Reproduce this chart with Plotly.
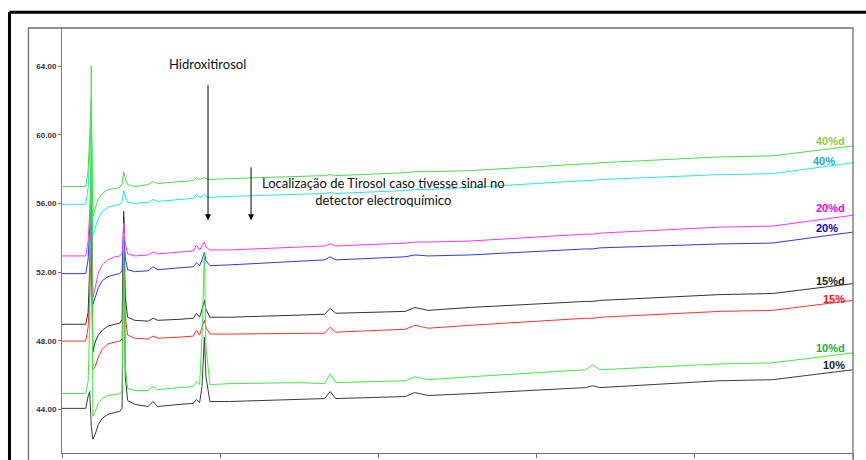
import plotly.graph_objects as go

# Retention time grid (min)
time_min = [0, 1.5, 1.65, 1.75, 1.85, 1.95, 2.1, 2.3, 2.55, 2.9, 3.35, 3.65, 3.8, 3.9, 4.0,
            4.15, 4.6, 5.45, 5.75, 6.05, 7.45, 8.3, 8.5, 8.7, 8.85, 9.0, 9.1, 9.35, 10.6,
            15.0, 16.6, 16.95, 17.3, 21.7, 22.3, 23.15, 25.8, 33.1, 33.55, 34.0, 41.6, 44.9, 50]

# Detector signal for each sample
s10 = [44.06, 44.06, 44.75, 45.04, 43.02, 42.27, 42.56, 43.13, 43.48, 43.71, 43.83, 43.88, 44.06, 55.54, 45.9,
       44.52, 44.29, 44.17, 44.46, 44.17, 44.29, 44.35, 44.58, 44.4, 45.33, 48.21, 45.9, 44.46, 44.46,
       44.58, 44.63, 45.04, 44.63, 44.75, 44.98, 44.81, 44.92, 45.27, 45.38, 45.27, 45.67, 45.73, 46.31]
s10d = [44.92, 44.92, 45.62, 48.79, 64.02, 43.6, 43.88, 44.35, 44.63, 44.81, 44.87, 44.92, 45.04, 54.27, 46.48,
        45.21, 45.1, 45.1, 45.33, 45.15, 45.27, 45.33, 45.62, 45.44, 48.21, 53.12, 47.64, 45.44, 45.5,
        45.56, 45.5, 46.08, 45.56, 45.67, 45.9, 45.73, 45.9, 46.31, 46.6, 46.31, 46.65, 46.71, 47.29]
s15 = [47.98, 47.98, 48.79, 50.52, 53.4, 46.31, 46.48, 47.06, 47.52, 47.81, 47.92, 47.98, 48.1, 53.4, 49.37,
       48.33, 48.15, 48.1, 48.27, 48.15, 48.21, 48.27, 48.62, 48.33, 48.79, 49.19, 48.79, 48.39, 48.39,
       48.44, 48.44, 48.79, 48.5, 48.67, 48.9, 48.73, 48.9, 49.31, 49.31, 49.37, 49.71, 49.77, 50.35]
s15d = [48.96, 48.96, 49.65, 52.25, 56.29, 47.35, 47.92, 48.33, 48.62, 48.85, 48.96, 49.02, 49.25, 55.25, 50.52,
        49.37, 49.19, 49.14, 49.31, 49.19, 49.25, 49.31, 49.6, 49.37, 49.83, 50.35, 49.83, 49.37, 49.37,
        49.48, 49.54, 49.89, 49.6, 49.71, 49.94, 49.77, 49.94, 50.29, 50.29, 50.35, 50.69, 50.75, 51.33]
s20 = [51.91, 51.91, 52.71, 54.56, 57.45, 50.12, 50.52, 51.1, 51.5, 51.73, 51.85, 51.91, 52.08, 54.56, 52.83,
       52.14, 52.02, 52.08, 52.31, 52.14, 52.25, 52.31, 52.54, 52.37, 52.71, 53.17, 52.66, 52.37, 52.42,
       52.66, 52.71, 52.89, 52.71, 52.89, 53.0, 52.94, 53.0, 53.35, 53.35, 53.41, 53.64, 53.69, 54.33]
s20d = [52.94, 52.94, 53.81, 55.43, 58.31, 50.52, 51.1, 51.96, 52.42, 52.71, 52.89, 52.94, 53.12, 54.85, 53.69,
        53.06, 52.94, 53.0, 53.17, 53.06, 53.17, 53.23, 53.58, 53.29, 53.52, 53.75, 53.46, 53.29, 53.29,
        53.46, 53.52, 53.64, 53.52, 53.69, 53.75, 53.75, 53.81, 54.21, 54.21, 54.27, 54.62, 54.68, 55.31]
s40 = [55.95, 55.95, 56.87, 58.6, 60.91, 54.16, 54.56, 55.14, 55.54, 55.77, 55.89, 55.95, 56.12, 56.75, 56.41,
       56.06, 56.0, 56.06, 56.23, 56.12, 56.23, 56.29, 56.52, 56.35, 56.41, 56.52, 56.41, 56.35, 56.41,
       56.52, 56.58, 56.64, 56.58, 56.75, 56.81, 56.81, 56.93, 57.33, 57.33, 57.39, 57.68, 57.73, 58.37]
s40d = [56.98, 56.98, 57.91, 59.75, 62.06, 55.25, 55.71, 56.29, 56.58, 56.81, 56.87, 56.93, 57.16, 57.85, 57.45,
        57.1, 56.98, 57.1, 57.27, 57.16, 57.27, 57.33, 57.5, 57.39, 57.45, 57.5, 57.45, 57.39, 57.45,
        57.56, 57.62, 57.68, 57.62, 57.79, 57.85, 57.85, 57.91, 58.31, 58.31, 58.37, 58.71, 58.77, 59.35]

series_names = ["10%", "15%", "15%d", "20%", "20%d", "40%", "40%d", "10%d"]
series_values = [s10, s15, s15d, s20, s20d, s40, s40d, s10d]
line_colors = ["#3a3a3a", "#ff3030", "#333333", "#3333ff", "#ff33ff", "#22e6e6", "#44e044", "#44e844"]

# End labels
label_text = ["40%d", "40%", "20%d", "20%", "15%d", "15%", "10%d", "10%"]
label_x = [48.55, 48.17, 48.55, 48.36, 48.55, 48.8, 48.55, 48.8]
label_y = [59.64, 58.48, 55.71, 54.56, 51.50, 50.41, 47.58, 46.60]
label_colors = ["#8cc850", "#1ea5e6", "#ff00ee", "#0000cc", "#1a1a1a", "#ff1010", "#10b050", "#1a1a1a"]

y_ticks = [44, 48, 52, 56, 60, 64]
y_ticktext = ["44.00", "48.00", "52.00", "56.00", "60.00", "64.00"]
x_ticks = [0, 10, 20, 30, 40, 50]

fig = go.Figure()
for name, vals, col in zip(series_names, series_values, line_colors):
    fig.add_trace(go.Scatter(x=time_min, y=vals, mode="lines", name=name,
                             line=dict(color=col, width=1)))

for t, x, y, c in zip(label_text, label_x, label_y, label_colors):
    fig.add_annotation(x=x, y=y, text=t, showarrow=False, xanchor="center", yanchor="middle",
                       font=dict(family="Liberation Sans, Arial", size=11, color=c, weight="bold"))

txt_font = dict(family="Lato, Carlito, sans-serif", size=13, color="#111111")
fig.add_annotation(x=9.17, y=64.14, text="Hidroxitirosol", showarrow=False, font=txt_font,
                   xanchor="center", yanchor="middle")
fig.add_annotation(x=20.35, y=56.69,
                   text="Localização de Tirosol caso tivesse sinal no<br>detector electroquímico",
                   showarrow=False, font=txt_font, xanchor="center", yanchor="middle", align="center")
# arrows
fig.add_annotation(x=9.23, y=55.02, ax=9.23, ay=62.98, axref="x", ayref="y", text="",
                   showarrow=True, arrowhead=2, arrowsize=1.2, arrowwidth=1, arrowcolor="#000000")
fig.add_annotation(x=11.95, y=55.02, ax=11.95, ay=58.19, axref="x", ayref="y", text="",
                   showarrow=True, arrowhead=2, arrowsize=1.2, arrowwidth=1, arrowcolor="#000000")

# frames
fig.add_shape(type="line", xref="paper", yref="paper", x0=-0.0664, x1=1.03, y0=1.0373, y1=1.0373,
              line=dict(color="#000000", width=3))
fig.add_shape(type="line", xref="paper", yref="paper", x0=-0.0664, x1=-0.0664, y0=1.0373, y1=-0.05,
              line=dict(color="#000000", width=3))
fig.add_shape(type="rect", xref="paper", yref="paper", x0=-0.0424, x1=1.0, y0=-0.1, y1=1.0,
              line=dict(color="#707070", width=1.3), fillcolor="rgba(0,0,0,0)")

fig.update_layout(
    width=866, height=460,
    margin=dict(l=62, r=13, t=28, b=3),
    paper_bgcolor="white", plot_bgcolor="white",
    showlegend=False,
    xaxis=dict(range=[0, 50], tickvals=x_ticks, showticklabels=False, ticks="outside", ticklen=4,
               tickcolor="#707070", showgrid=False, zeroline=False, showline=True,
               linecolor="#707070", linewidth=1),
    yaxis=dict(range=[41.46, 66.22], tickvals=y_ticks, ticktext=y_ticktext, ticks="outside",
               ticklen=3, tickcolor="#707070", showgrid=False, zeroline=False, showline=True,
               linecolor="#808080", linewidth=1,
               tickfont=dict(family="Liberation Sans, Arial", size=8, color="#333333", weight="bold")),
)

fig.write_html("out.html")
